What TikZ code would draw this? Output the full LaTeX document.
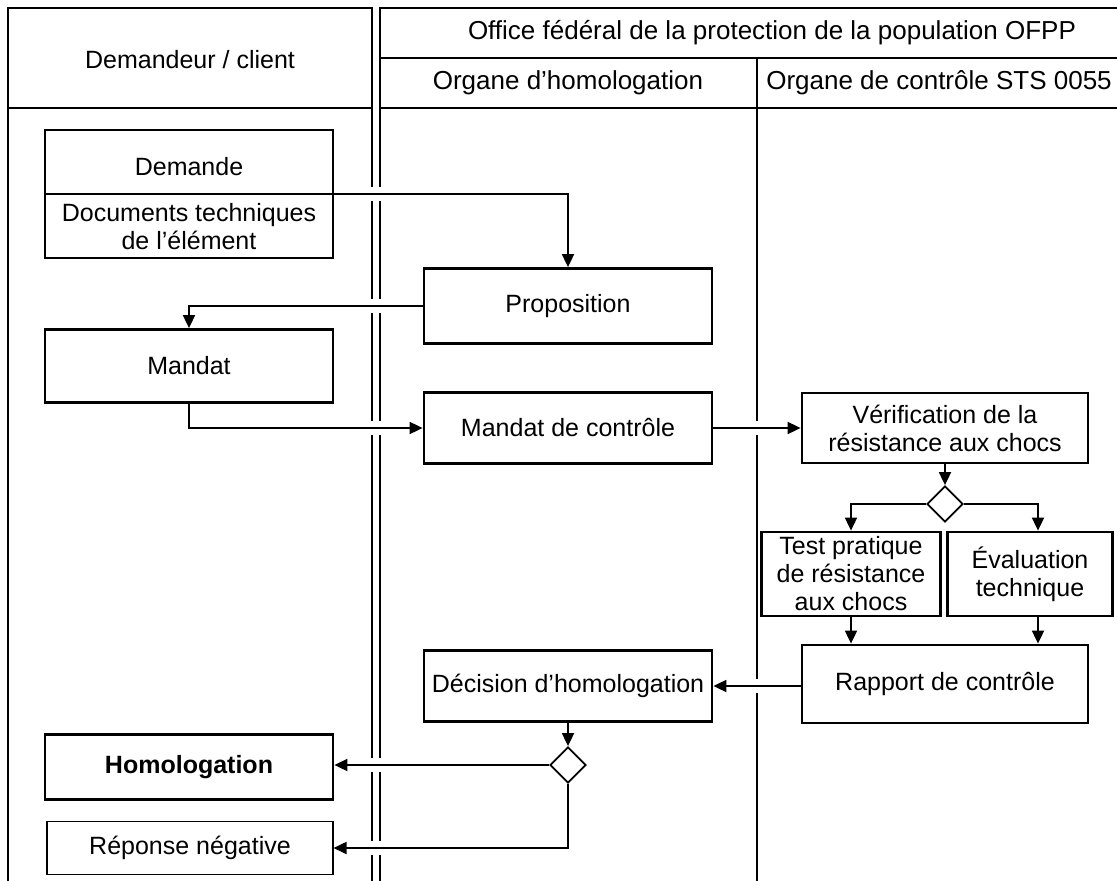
\documentclass[tikz,border=0pt]{standalone}
\usepackage{fontspec}
\setmainfont{Liberation Sans}
\usetikzlibrary{shapes.geometric,arrows.meta}
\begin{document}
\begin{tikzpicture}[x=1pt,y=-1pt,
  box/.style={draw,line width=2.8pt,minimum width=288pt,inner sep=2pt,align=center,font=\fontsize{25}{28}\selectfont},
  txt/.style={inner sep=0pt,align=center,font=\fontsize{25}{28}\selectfont},
  head/.style={inner sep=0pt,align=center,font=\fontsize{26}{29}\selectfont},
  arr/.style={line width=1.8pt,-{Triangle[length=13pt,width=12pt]}},
  dia/.style={draw,diamond,line width=1.8pt,minimum width=36pt,minimum height=36pt,inner sep=0pt},
  gap/.style={fill=white,draw=none}]
\useasboundingbox (0,0) rectangle (1117,881);
\fill[white] (0,0) rectangle (1117,881);
% frame and lanes
\draw[line width=1.5pt] (8,881) -- (8,8) -- (372,8) -- (372,881);
\draw[line width=1.5pt] (380,881) -- (380,8) -- (1117,8);
\draw[line width=1.3pt] (380,58) -- (1117,58);
\draw[line width=2pt] (8,108) -- (372,108);
\draw[line width=2pt] (380,108) -- (1117,108);
\draw[line width=1.2pt] (757,58) -- (757,881);
\node[txt] (h1) at (190,60) {Demandeur / client};
\node[head] (h2) at (772,33) {Office fédéral de la protection de la population OFPP};
\node[head] (h3) at (568,83) {Organe d’homologation};
\node[head] (h4) at (939,83) {Organe de contrôle STS 0055};
% gaps in lane lines where connectors cross
\foreach \yy in {194,306,428,765,848} {\fill[gap] (369,\yy-7) rectangle (383,\yy+7);}
\foreach \yy in {428,686} {\fill[gap] (754,\yy-7) rectangle (760,\yy+7);}
% nodes
\node[box,minimum height=128pt] (dem) at (189,194) {};
\draw[line width=1.4pt] (dem.west) -- (dem.east);
\node[txt] (demt) at (189,167) {Demande};
\node[txt] (doct) at (189,227) {Documents techniques\\de l’élément};
\node[box,minimum height=75pt] (prop) at (568,306) {Proposition};
\node[box,minimum height=73pt] (mand) at (189,366) {Mandat};
\node[box,minimum height=71pt] (mdc) at (568,428) {Mandat de contrôle};
\node[box,minimum height=70pt,minimum width=286pt] (verif) at (945,428) {Vérification de la\\résistance aux chocs};
\node[dia] (d1) at (945,504) {};
\node[box,minimum height=84pt,minimum width=179pt] (test) at (851,574) {Test pratique\\de résistance\\aux chocs};
\node[box,minimum height=84pt,minimum width=165pt] (eval) at (1030,574) {Évaluation\\technique};
\node[box,minimum height=78pt,minimum width=286pt] (rapp) at (945,684) {Rapport de contrôle};
\node[box,minimum height=71pt] (dec) at (568,686) {Décision d’homologation};
\node[dia] (d2) at (568,765) {};
\node[box,minimum height=65pt] (homol) at (189,767) {\textbf{Homologation}};
\node[box,line width=1.1pt,minimum height=53pt,minimum width=286pt] (rep) at (190,848) {Réponse négative};
% connectors
\draw[arr] (dem.east) -| (prop.north);
\draw[arr] (prop.west) -| (mand.north);
\draw[arr] (mand.south) |- (mdc.west);
\draw[arr] (mdc.east) -- (verif.west);
\draw[arr] (verif.south) -- (d1.north);
\draw[arr] (d1.west) -| (test.north);
\draw[arr] (d1.east) -| ([xshift=8pt]eval.north);
\draw[arr] (test.south) -- (test.south |- rapp.north);
\draw[arr] ([xshift=8pt]eval.south) -- ([xshift=8pt]eval.south |- rapp.north);
\draw[arr] (dec.east -| rapp.west) -- (dec.east);
\draw[arr] (dec.south) -- (d2.north);
\draw[arr] (d2.west) -- (d2.west -| homol.east);
\draw[arr] (d2.south) |- (rep.east);
\end{tikzpicture}
\end{document}
